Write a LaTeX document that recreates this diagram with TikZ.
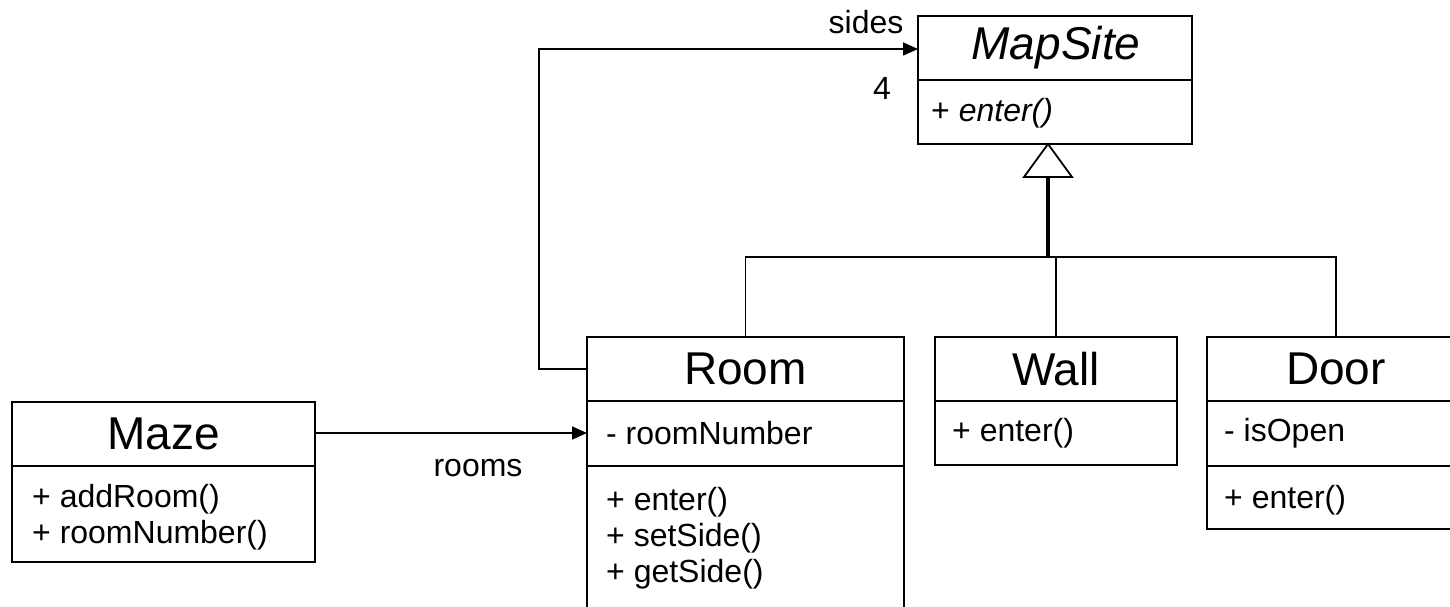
\documentclass[tikz,border=0pt]{standalone}
\usepackage{fontspec}
\setmainfont{Liberation Sans}
\usetikzlibrary{arrows.meta}

\begin{document}
\begin{tikzpicture}[x=1pt,y=-1pt,
  classbox/.style={draw,line width=1.8pt,inner sep=0pt,outer sep=0pt,anchor=north west},
  divider/.style={line width=1.8pt},
  title/.style={font=\fontsize{46}{50}\selectfont,inner sep=0pt},
  member/.style={font=\fontsize{32}{36}\selectfont,inner sep=0pt,anchor=west},
  label/.style={font=\fontsize{32}{36}\selectfont,inner sep=0pt},
  assoc/.style={line width=1.6pt,-{Triangle[length=15pt,width=13pt]}},
  link/.style={line width=1.6pt},
  genline/.style={line width=3.6pt}]

\useasboundingbox (0,0) rectangle (1450,607);
\clip (0,0) rectangle (1450,607);

% --- class boxes -------------------------------------------------------
\node[classbox,minimum width=274pt,minimum height=128pt] (mapsite) at (918,16) {};
\draw[divider] (918,80) -- (1192,80);
\node[title,font=\fontsize{46}{50}\selectfont\itshape] (mapsiteT) at (1056,48) {MapSite};
\node[member] (mapsiteM) at (931,113) {+ \textit{enter()}};

\node[classbox,minimum width=317pt,minimum height=300pt] (room) at (587,337) {};
\draw[divider] (587,401) -- (904,401);
\draw[divider] (587,466) -- (904,466);
\node[title] (roomT) at (745.5,369) {Room};
\node[member] (roomA) at (606,433) {- roomNumber};
\node[member] (roomM1) at (606,502) {+ enter()};
\node[member] (roomM2) at (606,538) {+ setSide()};
\node[member] (roomM3) at (606,574) {+ getSide()};

\node[classbox,minimum width=242pt,minimum height=128pt] (wall) at (935,337) {};
\draw[divider] (935,401) -- (1177,401);
\node[title] (wallT) at (1056,369) {Wall};
\node[member] (wallM) at (952,433) {+ enter()};

\node[classbox,minimum width=258pt,minimum height=192pt] (door) at (1207,337) {};
\draw[divider] (1207,401) -- (1465,401);
\draw[divider] (1207,466) -- (1465,466);
\node[title] (doorT) at (1336,369) {Door};
\node[member] (doorA) at (1224,433) {- isOpen};
\node[member] (doorM) at (1224,500) {+ enter()};

\node[classbox,minimum width=303pt,minimum height=160pt] (maze) at (12,402) {};
\draw[divider] (12,466) -- (315,466);
\node[title] (mazeT) at (163.5,434) {Maze};
\node[member] (mazeM1) at (32,499) {+ addRoom()};
\node[member] (mazeM2) at (32,535) {+ roomNumber()};

% --- associations -----------------------------------------------------
\draw[assoc] ([yshift=-31pt]maze.north east) -- ([yshift=-96pt]room.north west);
\node[label] (roomsL) at (478,468) {rooms};

\draw[assoc] ([yshift=-32pt]room.north west) -- ++(-48,0)
  |- ([yshift=-33pt]mapsite.north west);
\node[label] (sidesL) at (866,22) {sides};
\node[label] (multL) at (882,88) {4};

% --- generalisation ---------------------------------------------------
\coordinate (apex) at ([xshift=-7pt]mapsite.south);
\coordinate (base) at ([yshift=-33pt]apex);
\coordinate (bus) at (base |- 0,257);
\draw[genline] (base) -- (bus);
\draw[link] (room.north) |- (bus) -| (door.north);
\draw[link] (wall.north) -- (wall.north |- bus);
\draw[line width=1.8pt,fill=white,line join=miter]
  (apex) -- ([xshift=-24pt]base) -- ([xshift=24pt]base) -- cycle;
\end{tikzpicture}
\end{document}
